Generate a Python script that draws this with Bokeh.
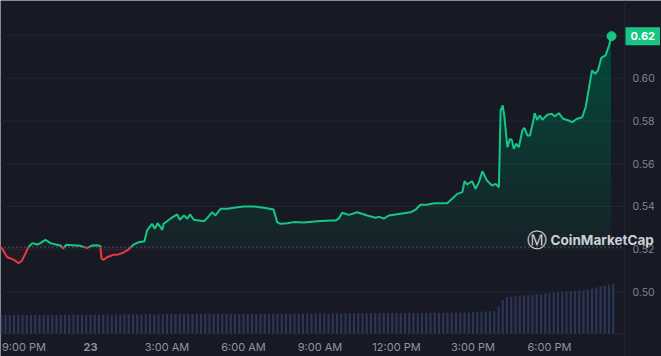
import numpy as np
import pandas as pd
from bokeh.plotting import figure
from bokeh.models import Range1d, Span, Label
from bokeh.core.properties import value
from bokeh.embed import file_html
from bokeh.resources import INLINE

# ---------------- data ----------------
price_time = [
    "2024-05-22 20:30", "2024-05-22 20:44", "2024-05-22 20:59", "2024-05-22 21:11", "2024-05-22 21:19",
    "2024-05-22 21:34", "2024-05-22 21:43", "2024-05-22 21:55", "2024-05-22 22:02", "2024-05-22 22:14",
    "2024-05-22 22:26", "2024-05-22 22:38", "2024-05-22 22:49", "2024-05-22 22:56", "2024-05-22 23:03",
    "2024-05-22 23:17", "2024-05-22 23:36", "2024-05-22 23:52", "2024-05-23 00:04", "2024-05-23 00:16",
    "2024-05-23 00:23", "2024-05-23 00:26", "2024-05-23 00:31", "2024-05-23 00:39", "2024-05-23 00:54",
    "2024-05-23 01:06", "2024-05-23 01:18", "2024-05-23 01:29", "2024-05-23 01:41", "2024-05-23 01:53",
    "2024-05-23 02:07", "2024-05-23 02:13", "2024-05-23 02:25", "2024-05-23 02:31", "2024-05-23 02:38",
    "2024-05-23 02:49", "2024-05-23 02:52", "2024-05-23 03:08", "2024-05-23 03:24", "2024-05-23 03:30",
    "2024-05-23 03:40", "2024-05-23 03:48", "2024-05-23 03:54", "2024-05-23 04:03", "2024-05-23 04:27",
    "2024-05-23 04:35", "2024-05-23 04:46", "2024-05-23 04:54", "2024-05-23 05:06", "2024-05-23 05:22",
    "2024-05-23 05:37", "2024-05-23 06:01", "2024-05-23 06:24", "2024-05-23 06:48", "2024-05-23 07:11",
    "2024-05-23 07:19", "2024-05-23 07:27", "2024-05-23 07:43", "2024-05-23 07:58", "2024-05-23 08:22",
    "2024-05-23 08:53", "2024-05-23 09:25", "2024-05-23 09:37", "2024-05-23 09:44", "2024-05-23 09:52",
    "2024-05-23 10:08", "2024-05-23 10:28", "2024-05-23 10:51", "2024-05-23 11:11", "2024-05-23 11:18",
    "2024-05-23 11:30", "2024-05-23 11:42", "2024-05-23 12:09", "2024-05-23 12:33", "2024-05-23 12:45",
    "2024-05-23 12:56", "2024-05-23 13:12", "2024-05-23 13:28", "2024-05-23 13:59", "2024-05-23 14:11",
    "2024-05-23 14:23", "2024-05-23 14:35", "2024-05-23 14:40", "2024-05-23 14:46", "2024-05-23 14:58",
    "2024-05-23 15:06", "2024-05-23 15:14", "2024-05-23 15:22", "2024-05-23 15:33", "2024-05-23 15:45",
    "2024-05-23 15:53", "2024-05-23 16:01", "2024-05-23 16:05", "2024-05-23 16:10", "2024-05-23 16:14",
    "2024-05-23 16:21", "2024-05-23 16:27", "2024-05-23 16:32", "2024-05-23 16:36", "2024-05-23 16:42",
    "2024-05-23 16:48", "2024-05-23 16:56", "2024-05-23 17:01", "2024-05-23 17:08", "2024-05-23 17:14",
    "2024-05-23 17:22", "2024-05-23 17:25", "2024-05-23 17:31", "2024-05-23 17:37", "2024-05-23 17:43",
    "2024-05-23 17:55", "2024-05-23 18:06", "2024-05-23 18:12", "2024-05-23 18:22", "2024-05-23 18:32",
    "2024-05-23 18:45", "2024-05-23 18:53", "2024-05-23 19:05", "2024-05-23 19:17", "2024-05-23 19:25",
    "2024-05-23 19:40", "2024-05-23 19:48", "2024-05-23 19:54", "2024-05-23 20:02", "2024-05-23 20:12",
    "2024-05-23 20:20", "2024-05-23 20:26",
]
price_usd = [
    0.5210, 0.5163, 0.5152, 0.5135, 0.5148, 0.5210, 0.5229, 0.5222, 0.5229, 0.5244,
    0.5229, 0.5222, 0.5218, 0.5204, 0.5221, 0.5219, 0.5216, 0.5206, 0.5218, 0.5219,
    0.5216, 0.5156, 0.5151, 0.5163, 0.5174, 0.5176, 0.5185, 0.5198, 0.5222, 0.5233,
    0.5238, 0.5288, 0.5319, 0.5296, 0.5322, 0.5291, 0.5319, 0.5343, 0.5363, 0.5338,
    0.5358, 0.5343, 0.5363, 0.5338, 0.5331, 0.5347, 0.5373, 0.5358, 0.5389, 0.5389,
    0.5394, 0.5400, 0.5400, 0.5394, 0.5386, 0.5327, 0.5319, 0.5322, 0.5327, 0.5325,
    0.5331, 0.5335, 0.5335, 0.5343, 0.5371, 0.5361, 0.5373, 0.5358, 0.5347, 0.5353,
    0.5343, 0.5358, 0.5366, 0.5373, 0.5385, 0.5408, 0.5408, 0.5415, 0.5415, 0.5436,
    0.5459, 0.5467, 0.5518, 0.5503, 0.5518, 0.5483, 0.5514, 0.5565, 0.5521, 0.5498,
    0.5506, 0.5490, 0.5849, 0.5872, 0.5817, 0.5677, 0.5716, 0.5708, 0.5670, 0.5693,
    0.5677, 0.5755, 0.5768, 0.5732, 0.5732, 0.5802, 0.5836, 0.5805, 0.5825, 0.5805,
    0.5829, 0.5833, 0.5821, 0.5836, 0.5810, 0.5802, 0.5794, 0.5810, 0.5817, 0.5864,
    0.6036, 0.6020, 0.6036, 0.6095, 0.6106, 0.6152, 0.6196,
]
base_price = 0.5210          # open price (dotted baseline)

vol_start = "2024-05-22 20:30"
vol_step = "10min"
volume_m = [
    9.3, 9.2, 9.3, 9.3, 9.4, 9.3, 9.2, 9.3, 9.4, 9.3, 9.3, 9.4, 9.3, 9.3, 9.4, 9.4, 9.3, 9.4, 9.4, 9.3, 9.4,
    9.4, 9.5, 9.4, 9.5, 9.5, 9.4, 9.5, 9.5, 9.6, 9.5, 9.5, 9.6, 9.5, 9.6, 9.6, 9.5, 9.6, 9.6, 9.7, 9.6,
    9.6, 9.7, 9.6, 9.7, 9.7, 9.6, 9.7, 9.7, 9.8, 9.7, 9.7, 9.8, 9.7, 9.8, 9.8, 9.7, 9.8, 9.8, 9.9, 9.8,
    9.8, 9.9, 9.8, 9.9, 9.9, 9.8, 9.9, 9.9,
    9.9, 10.0, 9.9, 10.0, 10.0, 10.0, 10.1, 10.0, 10.0, 10.1, 10.1, 10.0, 10.1, 10.1, 10.1, 10.2, 10.1,
    10.1, 10.2, 10.2, 10.1, 10.2, 10.2, 10.2, 10.3, 10.2, 10.2, 10.3, 10.3, 10.2, 10.3, 10.3, 10.3, 10.4,
    10.3, 10.4, 10.4, 10.4, 10.5, 10.4, 10.5, 10.5,
    10.7, 10.8, 10.9, 11.0, 11.1, 11.3,
    13.5, 16.8, 18.2, 18.5, 18.7, 18.9, 19.1, 19.2, 19.4, 19.6, 19.8, 20.0, 20.2, 20.4, 20.6, 20.8,
    21.0, 21.1, 21.3, 21.5, 21.6, 21.8, 22.4, 23.0, 23.6, 24.0, 24.4, 24.8,
]

y_tick_values = [0.50, 0.52, 0.54, 0.56, 0.58, 0.60]
y_tick_labels = ["0.50", "0.52", "0.54", "0.56", "0.58", "0.60"]
grid_values = [0.50, 0.52, 0.54, 0.56, 0.58, 0.60, 0.62]
x_tick_times = ["2024-05-22 21:00", "2024-05-23 03:00", "2024-05-23 06:00",
                "2024-05-23 09:00", "2024-05-23 12:00", "2024-05-23 15:00", "2024-05-23 18:00"]
x_tick_labels = ["9:00 PM", "3:00 AM", "6:00 AM", "9:00 AM", "12:00 PM", "3:00 PM", "6:00 PM"]
day_time = ["2024-05-23 00:00"]
day_label = ["23"]
last_label = "0.62"

# ---------------- layout / styling ----------------
W, H = 661, 356            # canvas
AREA_W, AREA_H = 624, 333  # plotting area (left of the price scale, above the time scale)
T0, T_AREA_END = "2024-05-22 20:28:15", "2024-05-23 20:56:30"
P_TOP, P_AREA_BOTTOM = 0.63626, 0.48065
VOL_TOP = 166.5
X_LABEL_SHIFT = [10, 0, 0, 0, 0, 0, 0]   # keep the first time label inside the canvas

BG = "#171924"
GRID = "#222531"
GREEN = "#16c784"
RED = "#ea3943"
VOL = "#2e3658"
FONT = "Inter"


def to_ms(lst):
    return np.asarray((pd.to_datetime(lst) - pd.Timestamp("1970-01-01")) // pd.Timedelta("1ms"), dtype=float)


t = to_ms(price_time)
pr = np.asarray(price_usd)
vt = to_ms(list(pd.date_range(vol_start, periods=len(volume_m), freq=vol_step)))
vol = np.asarray(volume_m)
tick_ms = to_ms(x_tick_times)
day_ms = to_ms(day_time)

x0, x_area = to_ms([T0, T_AREA_END])
x1 = x0 + (x_area - x0) * W / AREA_W
p_bottom = P_TOP - (P_TOP - P_AREA_BOTTOM) * H / AREA_H
vol_bottom = -VOL_TOP * (H - AREA_H) / AREA_H

# insert baseline crossings so the line can switch colour exactly there
xs, ys = [t[0]], [pr[0]]
for i in range(1, len(t)):
    a, b = pr[i - 1] - base_price, pr[i] - base_price
    if a * b < 0:
        f = a / (a - b)
        xs.append(t[i - 1] + f * (t[i] - t[i - 1]))
        ys.append(base_price)
    xs.append(t[i])
    ys.append(pr[i])
xs = np.asarray(xs)
ys = np.asarray(ys)

p = figure(width=W, height=H, x_axis_type="datetime",
           x_axis_location=None, y_axis_location=None,
           x_range=Range1d(x0, x1), y_range=Range1d(p_bottom, P_TOP),
           output_backend="svg", toolbar_location=None, min_border=0)
p.extra_y_ranges = {"vol": Range1d(vol_bottom, VOL_TOP)}
p.background_fill_color = BG
p.border_fill_color = BG
p.outline_line_color = None
p.grid.visible = False

# horizontal grid lines and frame of the plotting area
n_g = len(grid_values)
p.segment(x0=[x0] * n_g, x1=[x_area] * n_g, y0=grid_values, y1=grid_values,
          line_color=GRID, line_width=1)
p.segment(x0=[x0], x1=[x_area], y0=[P_AREA_BOTTOM], y1=[P_AREA_BOTTOM], line_color=GRID, line_width=1)
p.add_layout(Span(location=x_area, dimension="height", line_color=GRID, line_width=1))

# volume
p.vbar(x=vt, top=vol, bottom=0, width=5 * 60 * 1000, y_range_name="vol",
       fill_color=VOL, line_color=None)

# fills
p.varea(x=xs, y1=np.minimum(ys, base_price), y2=np.full_like(ys, base_price),
        fill_color=RED, fill_alpha=0.06)
levels = np.linspace(base_price, 0.62, 21)[:-1]
for i, lv in enumerate(levels):
    p.varea(x=xs, y1=np.full_like(ys, lv), y2=np.maximum(ys, lv),
            fill_color=GREEN, fill_alpha=0.06 if i == 0 else 0.015)

# baseline (open price)
p.segment(x0=[x0], x1=[x_area], y0=[base_price], y1=[base_price],
          line_color="#5c6070", line_dash="1 3", line_width=1.5)

# price line
p.line(xs, np.where(ys >= base_price, ys, np.nan), line_color=GREEN, line_width=2)
p.line(xs, np.where(ys <= base_price, ys, np.nan), line_color=RED, line_width=2)
p.scatter([t[-1]], [pr[-1]], size=9, fill_color=GREEN, line_color=GREEN)

# price scale labels
p.text(x=[x_area] * len(y_tick_values), y=y_tick_values, text=y_tick_labels,
       x_offset=8, text_align="left", text_baseline="middle",
       text_font=value(FONT), text_font_size="10.5px", text_color="#7f8492")

# time scale labels
p.text(x=tick_ms, y=[P_AREA_BOTTOM] * len(tick_ms), text=x_tick_labels,
       x_offset=X_LABEL_SHIFT, y_offset=13, text_align="center", text_baseline="middle",
       text_font=value(FONT), text_font_size="11px", text_color="#8f94a1")
p.text(x=day_ms, y=[P_AREA_BOTTOM], text=day_label,
       y_offset=13, text_align="center", text_baseline="middle",
       text_font=value(FONT), text_font_size="11px", text_font_style="bold", text_color="#8f94a1")

# last price tag
p.add_layout(Label(x=x_area, y=pr[-1], x_offset=1, text=last_label,
                   text_align="left", text_baseline="middle", text_font=FONT,
                   text_font_size="11px", text_font_style="bold", text_color="white",
                   background_fill_color=GREEN, padding=5))

# watermark
p.add_layout(Label(x=536, y=117, x_units="screen", y_units="screen", text="\u24c2",
                   text_align="center", text_baseline="middle", text_font="DejaVu Sans",
                   text_font_size="20px", text_color="#e6e8ec", text_alpha=0.9))
p.add_layout(Label(x=550, y=117, x_units="screen", y_units="screen", text="CoinMarketCap",
                   text_align="left", text_baseline="middle", text_font=FONT,
                   text_font_size="13.5px", text_font_style="bold", text_color="#e6e8ec",
                   text_alpha=0.9))

open("out.html", "w").write(file_html(p, INLINE))
